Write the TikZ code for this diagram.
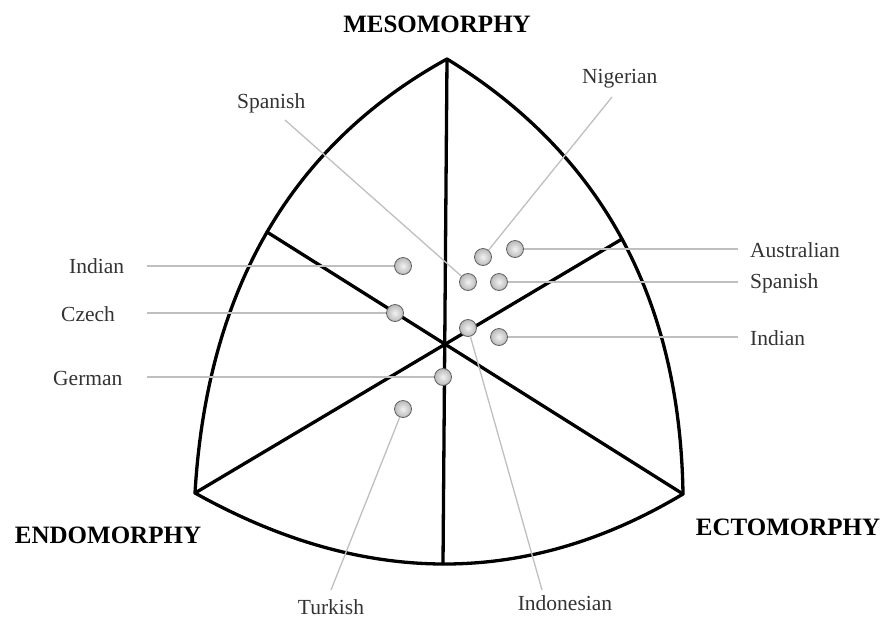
\documentclass[tikz,border=0pt]{standalone}
\usepackage{fontspec}
\setmainfont{Liberation Serif}
\begin{document}
\begin{tikzpicture}[x=1pt,y=-1pt,
  axis/.style={line width=3.3pt, line join=round, line cap=round},
  lead/.style={draw=gray!50, line width=1.3pt},
  pt/.style={circle, minimum size=17pt, inner sep=0pt, draw=gray!75!black, line width=0.8pt, inner color=gray!10, outer color=gray!55},
  lab/.style={text=black!80, font=\fontsize{21.5}{24}\selectfont, inner sep=0pt},
  ttl/.style={font=\bfseries\fontsize{25}{28}\selectfont, inner sep=0pt}]
\useasboundingbox (0,0) rectangle (881,619);
\coordinate (T) at (447,59);
\coordinate (L) at (195,493);
\coordinate (R) at (683,494);
\coordinate (C) at (446,345);
\coordinate (ML) at (267,232);
\coordinate (MR) at (622,239);
\coordinate (MB) at (443,564);
% sector lines
\draw[axis] (T) -- (MB);
\draw[axis] (L) -- (MR);
\draw[axis] (R) -- (ML);
% outline
\draw[axis] (T) .. controls (291,145) and (207,290) .. (L)
  .. controls (363,587) and (526,588) .. (R)
  .. controls (680,299) and (602,154) .. cycle;
% points
\node[pt] (pAus) at (515,249) {};
\node[pt] (pNig) at (483,257) {};
\node[pt] (pSpL) at (468,282) {};
\node[pt] (pSpR) at (499,282) {};
\node[pt] (pInL) at (403,266) {};
\node[pt] (pCz) at (395,313) {};
\node[pt] (pIdo) at (468,328) {};
\node[pt] (pInR) at (499,337) {};
\node[pt] (pGer) at (443,377) {};
\node[pt] (pTur) at (403,409) {};
% leader ends
\coordinate (eAus) at (738,249);
\coordinate (eSpR) at (738,282);
\coordinate (eInR) at (738,337);
\coordinate (eInL) at (147,266);
\coordinate (eCz) at (147,313);
\coordinate (eGer) at (147,377);
\coordinate (eNig) at (612,97);
\coordinate (eSpL) at (285,120);
\coordinate (eIdo) at (542,590);
\coordinate (eTur) at (331,590);
% leaders
\draw[lead] (pAus) -- (eAus);
\draw[lead] (pSpR) -- (eSpR);
\draw[lead] (pInR) -- (eInR);
\draw[lead] (eInL) -- (pInL);
\draw[lead] (eCz) -- (pCz);
\draw[lead] (eGer) -- (pGer);
\draw[lead] (eNig) -- (pNig);
\draw[lead] (eSpL) -- (pSpL);
\draw[lead] (pIdo) -- (eIdo);
\draw[lead] (pTur) -- (eTur);
% labels
\node[lab, anchor=base west] (lAus) at (750,257) {Australian};
\node[lab, anchor=base west] (lSpR) at (750,288) {Spanish};
\node[lab, anchor=base west] (lInR) at (750,345) {Indian};
\node[lab, anchor=base west] (lInL) at (69,273) {Indian};
\node[lab, anchor=base west] (lCz) at (61,321) {Czech};
\node[lab, anchor=base west] (lGer) at (53,385) {German};
\node[lab, anchor=base west] (lSpL) at (237,108) {Spanish};
\node[lab, anchor=base west] (lNig) at (582,83) {Nigerian};
\node[lab, anchor=base] (lTur) at (331,614) {Turkish};
\node[lab, anchor=base] (lIdo) at (565,610) {Indonesian};
% titles
\node[ttl, anchor=base] (tMeso) at (437,32) {MESOMORPHY};
\node[ttl, anchor=base] (tEndo) at (108,543) {ENDOMORPHY};
\node[ttl, anchor=base] (tEcto) at (788,535) {ECTOMORPHY};
\end{tikzpicture}
\end{document}
